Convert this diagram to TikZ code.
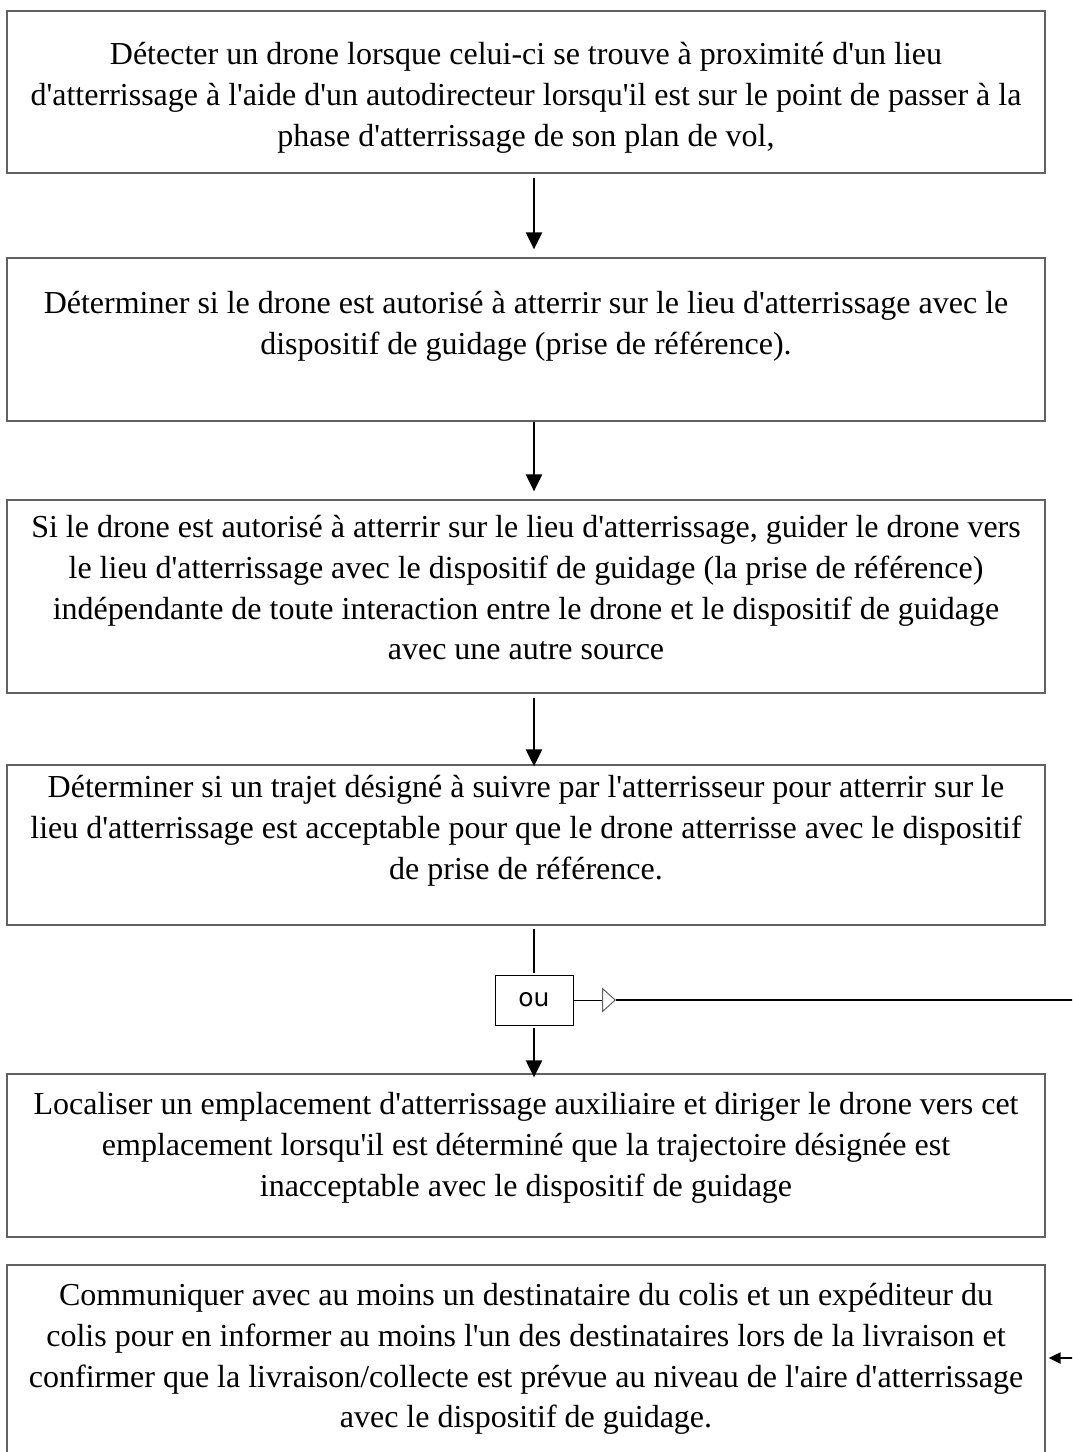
\documentclass[tikz,border=0pt]{standalone}
\usepackage{fontspec}
\newfontfamily\serif{Liberation Serif}
\newfontfamily\sans{DejaVu Sans}
\usetikzlibrary{arrows.meta,calc}
\definecolor{boxgray}{gray}{0.38}
\tikzset{
  box/.style={draw=boxgray, line width=1.3pt, rectangle, inner sep=0pt, minimum width=1038pt},
  txt/.style={anchor=north, inner sep=0pt, align=center, font=\serif\fontsize{32}{40.8}\selectfont},
  orbox/.style={draw=black, line width=1pt, rectangle, inner sep=0pt, minimum width=78pt, minimum height=50pt, font=\sans\fontsize{25}{28}\selectfont},
  arr/.style={line width=2.2pt, -{Triangle[length=17pt,width=16pt]}},
  plain/.style={line width=2.2pt},
  thin/.style={line width=1pt},
  opentri/.style={line width=1pt, -{Triangle[open,length=14pt,width=25pt,color=boxgray]}},
  sidearr/.style={line width=2.2pt, -{Triangle[length=12pt,width=11pt]}}
}
\begin{document}
\begin{tikzpicture}[x=1pt,y=-1pt]
\clip (0,0) rectangle (1072,1452);
\fill[white] (0,0) rectangle (1072,1452);

\node[box, minimum height=162pt] (b1) at (526,92) {};
\node[box, minimum height=163pt] (b2) at (526,339.5) {};
\node[box, minimum height=193pt] (b3) at (526,596.5) {};
\node[box, minimum height=160pt] (b4) at (526,845) {};
\node[box, minimum height=163pt] (b5) at (526,1155.5) {};
\node[box, minimum height=205pt] (b6) at (526,1367.5) {};
\node[orbox] (ou) at (534,1000) {ou};

\node[txt] (t1) at (526,42) {D\'etecter un drone lorsque celui-ci se trouve \`a proximit\'e d'un lieu\\d'atterrissage \`a l'aide d'un autodirecteur lorsqu'il est sur le point de passer \`a la\\phase d'atterrissage de son plan de vol,};
\node[txt] (t2) at (526,291) {D\'eterminer si le drone est autoris\'e \`a atterrir sur le lieu d'atterrissage avec le\\dispositif de guidage (prise de r\'ef\'erence).};
\node[txt] (t3) at (526,515) {Si le drone est autoris\'e \`a atterrir sur le lieu d'atterrissage, guider le drone vers\\le lieu d'atterrissage avec le dispositif de guidage (la prise de r\'ef\'erence)\\ind\'ependante de toute interaction entre le drone et le dispositif de guidage\\avec une autre source};
\node[txt] (t4) at (526,775) {D\'eterminer si un trajet d\'esign\'e \`a suivre par l'atterrisseur pour atterrir sur le\\lieu d'atterrissage est acceptable pour que le drone atterrisse avec le dispositif\\de prise de r\'ef\'erence.};
\node[txt] (t5) at (526,1092) {Localiser un emplacement d'atterrissage auxiliaire et diriger le drone vers cet\\emplacement lorsqu'il est d\'etermin\'e que la trajectoire d\'esign\'ee est\\inacceptable avec le dispositif de guidage};
\node[txt] (t6) at (526,1283) {Communiquer avec au moins un destinataire du colis et un exp\'editeur du\\colis pour en informer au moins l'un des destinataires lors de la livraison et\\confirmer que la livraison/collecte est pr\'evue au niveau de l'aire d'atterrissage\\avec le dispositif de guidage.};

\draw[arr, shorten <=4pt, shorten >=8pt] (b1.south -| ou.center) -- (b2.north -| ou.center);
\draw[arr, shorten >=8pt] (b2.south -| ou.center) -- (b3.north -| ou.center);
\draw[arr, shorten <=4pt, shorten >=-2pt] (b3.south -| ou.center) -- (b4.north -| ou.center);
\draw[plain, shorten <=3pt, shorten >=2pt] (b4.south -| ou.center) -- (ou.north);
\draw[arr, shorten <=2pt, shorten >=-4pt] (ou.south) -- (b5.north -| ou.center);

\coordinate (tri) at (616,1000);
\coordinate (c1) at (1090,1000);
\coordinate (c2) at (1090,1358);
\draw[opentri] (ou.east) -- (tri);
\draw[plain] (tri) -- (c1) -- (c2);
\draw[sidearr, shorten >=3pt] (c2) -- (c2 -| b6.east);
\end{tikzpicture}
\end{document}
